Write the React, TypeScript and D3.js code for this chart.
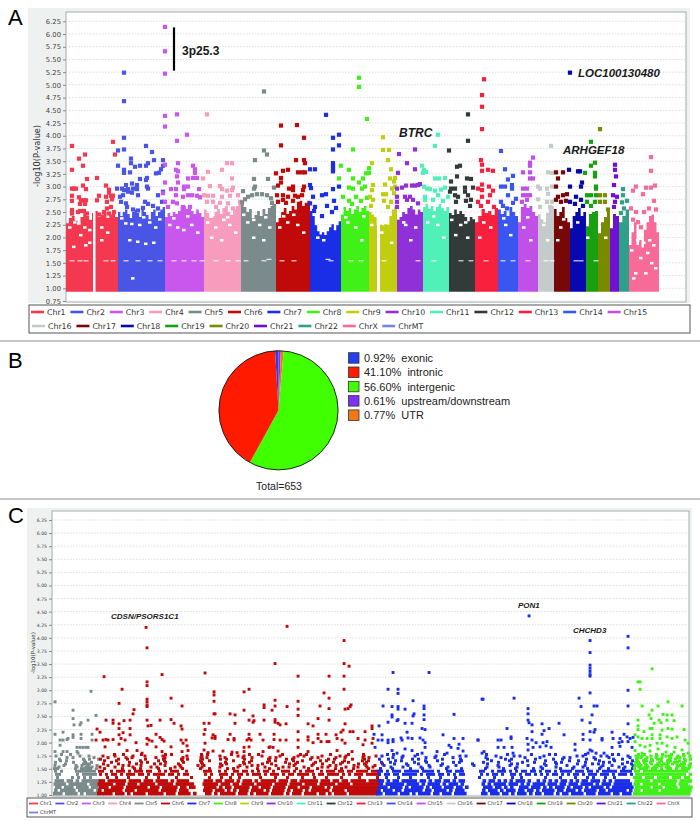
import * as d3 from 'd3';
import { useEffect, useRef } from 'react';

type Pt = [number, number];

const chrNames = ['Chr1','Chr2','Chr3','Chr4','Chr5','Chr6','Chr7','Chr8','Chr9','Chr10','Chr11','Chr12','Chr13','Chr14','Chr15','Chr16','Chr17','Chr18','Chr19','Chr20','Chr21','Chr22','ChrX','ChrMT'];
const chrColors = ['#f4384f','#4a55e6','#c957ee','#f79cbc','#7b8a8a','#c00a0a','#1a2ee8','#40f018','#bfcf10','#9030d8','#50f0b8','#333a3a','#f8203c','#3a55f0','#c050e8','#c5cbcb','#780808','#0808b0','#18a010','#7a8a00','#7010d0','#2fa088','#f86a98','#7a82e0'];

// genome position of each chromosome start, last entry closes ChrX
const chrStartsA = [0,52,99,138,175,210,244,275,303,331,357,383,409,432,452,472,488,504,520,532,544,553,563,593];

// top of the solid mass of points per chromosome, evenly across it
const massA = [
  [2.28,2.38,2.42,2.33,2.26,2.4,2.5,2.42,2.35,2.48,2.52,2.4,2.45,2.5,2.38,2.45,2.5,2.4],
  [2.5,2.42,2.5,2.55,2.46,2.38,2.5,2.55,2.48,2.4,2.55,2.5,2.44,2.36,2.5,2.55,2.42,2.5,2.55,2.6],
  [2.4,2.48,2.42,2.5,2.46,2.52,2.6,2.62,2.56,2.6,2.52,2.46,2.55,2.48,2.4],
  [2.55,2.48,2.38,2.42,2.5,2.56,2.46,2.58,2.62,2.5,2.44,2.55,2.62,2.66],
  [2.66,2.6,2.5,2.56,2.38,2.44,2.52,2.42,2.56,2.46,2.58,2.62,2.66],
  [2.3,2.38,2.5,2.58,2.46,2.52,2.62,2.55,2.7,2.72,2.62,2.68,2.72],
  [2.52,2.42,2.24,2.12,2.06,2.1,2.05,2.12,2.2,2.26,2.14,2.24,2.32],
  [2.45,2.6,2.52,2.58,2.46,2.55,2.62,2.5,2.58,2.62,2.52],
  [2.5,2.45,2.4,2.24,2.25,2.24,2.26,2.25,2.42,2.55,2.6],
  [2.35,2.4,2.5,2.46,2.58,2.62,2.55,2.45,2.55,2.5],
  [2.6,2.66,2.56,2.62,2.52,2.6,2.66,2.58,2.52,2.6],
  [2.48,2.44,2.55,2.46,2.52,2.46,2.4,2.32,2.4,2.36],
  [2.3,2.42,2.56,2.48,2.52,2.44,2.58],
  [2.55,2.46,2.52,2.42,2.6,2.5,2.42],
  [2.3,2.6,2.66,2.58,2.62,2.5,2.42],
  [2.46,2.36,2.3,2.48,2.6,2.62],
  [2.56,2.42,2.5,2.6,2.38,2.3],
  [2.18,2.42,2.5,2.58,2.42,2.5],
  [2.22,2.46,2.5,2.52],
  [2.08,2.3,2.4,2.52],
  [2.18,2.46,2.42],
  [2.3,2.42,2.55],
  [1.85,2.1,2.3,1.85,1.95,1.8,2.15,2.3,2.42,2.45,2.3,2.1],
];

const pointsA: Pt[][] = [
  [[6,3.8],[13,3.55],[19,3.63],[17,3.41],[6,3.33],[21,3.15],[31,3.17],[47,3.88],[49,3.63],[40,3.02],[6,2.96],[8,2.96],[10,2.96],[17,3.02],[20,2.95],[6,2.82],[6,2.72],[13,2.79],[15,2.73],[18,2.73],[20,2.73],[14,2.66],[19,2.66],[6,2.54],[6,2.47],[21,2.47],[33,2.82],[31,2.73],[43,2.94],[43,2.88],[40,2.8],[47,2.82],[45,2.82],[41,2.7],[46,2.75],[41,2.57],[45,2.6],[14,2.52],[12,2.5],[18,2.52],[33,2.45],[38,2.5],[43,2.47],[48,2.5]],
  [[58,5.24],[58,4.68],[58,3.96],[58,3.73],[52,3.71],[52,3.41],[58,3.33],[58,3.27],[64,3.28],[65,3.55],[65,3.46],[69,3.39],[74,3.41],[80,3.8],[86,3.68],[82,3.46],[80,3.41],[88,3.52],[97,3.52],[97,3.41],[95,3.34],[93,3.27],[90,3.26],[81,3.17],[74,3.15],[80,3.13],[71,3.03],[66,3.06],[60,3.03],[51,2.96],[56,2.96],[58,2.93],[62,2.95],[67,2.96],[71,2.95],[81,3],[82,2.96],[72,2.83],[66,2.88],[62,2.9],[57,2.83],[54,2.8],[55,2.7],[60,2.67],[92,2.83],[97,2.9],[79,2.7],[82,2.66],[87,2.62],[96,2.7],[92,2.57],[61,2.6],[67,2.55],[72,2.53],[77,2.58]],
  [[99,6.14],[99,5.66],[99,5.22],[99,4.39],[99,4.18],[111,4.42],[121,4.02],[111,3.9],[99,3.43],[112,3.46],[127,3.41],[129,3.34],[110,3.33],[112,3.3],[129,3.27],[111,3.2],[122,3.16],[127,3.17],[131,3.17],[99,3.08],[112,3.08],[105,2.95],[110,2.95],[118,3],[122,3],[118,2.95],[133,2.95],[97,2.87],[110,2.83],[117,2.8],[122,2.83],[126,2.83],[131,2.82],[134,2.79],[99,2.7],[107,2.7],[111,2.67],[117,2.6],[124,2.6],[102,2.6]],
  [[141,4.42],[161,3.46],[166,3.46],[156,3.33],[142,3.29],[137,3.16],[166,3.16],[144,3.01],[154,3.01],[167,2.98],[156,2.95],[166,2.93],[161,2.92],[138,2.83],[142,2.82],[147,2.82],[156,2.8],[164,2.82],[172,2.83],[141,2.7],[147,2.7],[154,2.68],[162,2.67],[174,2.7],[150,2.6],[167,2.57]],
  [[198,4.87],[198,3.71],[201,3.63],[189,3.52],[188,3.15],[202,3.15],[189,3],[188,2.96],[208,2.98],[177,2.91],[182,2.8],[186,2.83],[191,2.85],[196,2.85],[201,2.83],[205,2.77],[179,2.75],[176,2.69],[206,2.68],[208,2.59]],
  [[215,4.2],[231,4.21],[238,3.96],[215,3.81],[230,3.52],[238,3.52],[239,3.46],[210,3.26],[217,3.31],[222,3.33],[232,3.28],[236,3.28],[239,3.28],[215,3.17],[215,3.08],[212,3.02],[227,3],[238,3],[223,2.96],[227,2.93],[237,2.93],[211,2.83],[217,2.83],[222,2.8],[229,2.82],[236,2.83],[217,2.74],[232,2.8],[220,2.68],[227,2.72],[212,2.7]],
  [[260,4.41],[273,4.02],[267,3.96],[273,3.81],[267,3.73],[267,3.46],[267,3.4],[267,3.35],[267,3.3],[244,3.34],[249,3.34],[273,3],[244,3.03],[245,2.97],[267,2.95],[247,2.8],[256,2.83],[260,2.85],[268,2.72],[244,2.67],[249,2.6],[261,2.62],[270,2.58],[248,2.52],[266,2.5],[256,2.42]],
  [[293,5.14],[293,4.96],[301,4.33],[287,3.73],[275,3.41],[283,3.33],[273,3.16],[283,2.98],[303,3.36],[303,3.27],[300,3.26],[297,3.16],[293,3.08],[287,3.16],[287,2.96],[299,3],[296,2.96],[290,2.8],[277,2.8],[283,2.72],[295,2.72],[301,2.78],[286,2.66]],
  [[317,3.97],[317,3.72],[323,3.72],[322,3.52],[325,3.34],[329,3.17],[324,3.16],[319,3.04],[328,3.1],[326,2.96],[329,3],[317,2.85],[320,2.85],[328,2.87],[306,3.46],[306,2.93],[307,3.03],[304,2.8],[307,2.74],[318,2.72],[325,2.7],[305,2.62],[322,2.6]],
  [[349,3.73],[333,3.64],[341,3.46],[349,3.34],[332,3.27],[331,2.96],[336,2.98],[340,3.02],[346,3.02],[349,3.02],[352,3.03],[354,3.05],[331,2.8],[331,2.7],[331,2.6],[339,2.8],[344,2.8],[347,2.74],[341,2.74],[352,2.67]],
  [[372,4.02],[369,3.8],[356,3.41],[358,3.33],[360,3.29],[357,3.27],[369,3.16],[373,3.16],[379,3.17],[358,3],[361,2.96],[364,2.95],[369,2.92],[379,2.98],[375,2.94],[359,2.8],[372,2.83],[382,2.8],[359,2.74],[367,2.74],[377,2.72]],
  [[402,4.42],[402,3.9],[383,3.71],[394,3.41],[391,3.39],[391,3.2],[385,3.1],[401,3.16],[405,3.15],[385,2.96],[389,2.96],[399,2.98],[407,2.98],[399,2.9],[384,2.9],[389,2.83],[392,2.8],[402,2.83],[405,2.74],[390,2.7],[400,2.72],[404,2.62]],
  [[418,5.11],[416,4.8],[416,4.57],[416,4.13],[415,3.52],[416,3.43],[416,3.31],[422,3.33],[427,3.31],[416,3.04],[412,2.96],[416,2.93],[423,3],[427,2.92],[424,2.83],[416,2.8],[412,2.7],[422,2.7],[415,2.62],[428,2.6]],
  [[435,3.7],[439,3.34],[447,3.21],[442,3.14],[446,3.03],[435,3],[439,3],[446,2.96],[442,2.83],[450,2.76],[435,2.7],[441,2.57],[447,2.68],[437,2.62]],
  [[467,3.57],[464,3.47],[464,3.41],[457,3.28],[464,3.28],[464,3.16],[467,3.16],[457,2.96],[461,2.96],[457,2.83],[461,2.83],[464,2.83],[456,2.7],[461,2.74]],
  [[485,3.8],[482,3.28],[486,3.27],[472,3],[474,2.96],[481,2.96],[486,3],[482,2.86],[472,2.75],[481,2.7],[486,2.7],[474,2.6],[484,2.6]],
  [[490,3.28],[497,3.28],[492,3.16],[490,3],[492,2.8],[497,2.83],[501,2.85],[490,2.74],[495,2.7],[500,2.72]],
  [[504,5.24],[503,3.33],[512,3.3],[514,3.3],[504,3],[516,3.08],[515,3],[510,2.8],[515,2.74],[504,2.7],[509,2.66],[517,2.62]],
  [[525,3.88],[529,3.47],[525,3.41],[519,3.27],[529,3.27],[529,3.2],[530,3],[530,2.96],[521,2.83],[525,2.83],[530,2.83],[521,2.7],[529,2.7],[525,2.62]],
  [[534,4.13],[534,2.83],[539,2.83],[534,2.7],[539,2.7],[542,2.55]],
  [[549,3.43],[549,3.33],[550,3.2],[548,3.03],[547,2.83],[549,2.7],[551,2.8],[548,2.6]],
  [[557,2.95],[557,2.83],[556,2.69],[561,2.72],[558,2.57],[555,2.48]],
  [[585,3.58],[585,3.31],[570,3],[567,2.92],[577,2.85],[580,2.98],[585,2.98],[589,3.02],[588,2.72],[565,2.57],[570,2.5],[578,2.5],[583,2.57],[590,2.55],[567,2.35],[575,2.2],[572,2.3]],
];

// white holes seen in the upper part of the solid mass
const holesA: Pt[] = [[4,2.2],[9,2.3],[15,2.05],[20,1.85],[24,1.9],[8,1.82],[24,2.15],[36,2.2],[42,2.1],[36,1.95],[13,2.28],[19,2.2],[60,2.28],[66,2.27],[74,2.25],[84,2.3],[90,2.2],[64,1.95],[72,1.92],[80,1.88],[88,1.9],[67,1.2],[56,2.38],[78,2.4],[94,2.36],[104,2.25],[112,2.2],[118,2.15],[126,2.25],[132,2.1],[108,2.38],[122,2.42],[142,2.3],[150,2.2],[158,2.35],[164,2.25],[170,2.1],[146,2],[156,1.95],[146,2.42],[162,2.4],[182,2.3],[194,2.25],[204,2.2],[188,2],[198,1.95],[188,2.35],[200,2.4],[178,2.45],[214,2.2],[222,2.3],[232,2.25],[238,2.1],[218,2.42],[228,2.45],[252,2],[258,1.95],[282,2.3],[290,2.2],[296,1.95],[280,2.4],[298,2.42],[306,2.25],[316,2.1],[326,1.9],[340,2.25],[350,2.2],[345,1.95],[338,2.3],[362,2.3],[372,2.25],[378,2],[368,2.42],[395,2.25],[400,2.3],[390,2.05],[402,2],[386,2.35],[418,2.3],[414,2],[425,2.2],[440,2.25],[445,2.05],[438,2.38],[458,2.2],[465,1.95],[462,2.4],[478,2.25],[482,1.95],[495,2.2],[492,1.95],[498,2.36],[512,2.3],[522,2],[540,2],[575,1.6],[582,1.7],[570,1.3],[590,1.4],[578,1.9],[586,1.5],[566,1.75],[572,1.95],[580,1.3],[588,1.85],[568,1.2],[584,1.95]];

// the thin broken white line running across the mass
const lineDashesA: Pt[] = [[6,1.55],[14,1.55],[20,1.55],[40,1.55],[47,1.55],[60,1.55],[72,1.55],[84,1.55],[94,1.55],[108,1.55],[118,1.55],[128,1.55],[136,1.55],[150,1.55],[162,1.55],[172,1.55],[180,1.55],[198,1.55],[203,1.58],[216,1.55],[228,1.55],[262,1.58],[265,1.55],[285,1.55],[295,1.55],[318,1.55],[352,1.55],[368,1.55],[395,1.55],[405,1.55],[420,1.55],[437,1.55],[447,1.55],[462,1.55],[480,1.55],[486,1.55],[510,1.55],[515,1.55],[530,1.55]];

// thin columns without any marker
const gapsA: Pt[] = [[27,29.5],[311,314]];

const ticksA = [0.75,1,1.25,1.5,1.75,2,2.25,2.5,2.75,3,3.25,3.5,3.75,4,4.25,4.5,4.75,5,5.25,5.5,5.75,6,6.25];
const ticksC = ticksA.slice(1);

// pie
const pieLabels = ['exonic','intronic','intergenic','upstream/downstream','UTR'];
const pieValues = [0.92,41.1,56.6,0.61,0.77];
const pieColors = ['#2340f0','#ff1a00','#40ff00','#8030f0','#f07818'];
const pieOrder = [0,3,4,2,1];

// panel C, dense lower rows: one string per level, each char one cell along the genome
const levelsC = [1.03,1.09,1.15,1.21,1.27,1.33,1.39,1.45,1.5,1.53,1.56,1.59,1.62,1.65,1.68,1.71,1.74,1.77];
const rowShiftC = [0,1,2,0.5,1.5,0,2,1,0,1.5,0.5,2,1,0,2,0.5,1.5,1];
const grayRows = [
  '###.####.#.####','#.#####.#####.#','##.###.####.###','####.######.###','###.##.#.######','.#....#.#.#.#..',
  '##.....#.#####.','#.#....#######.','##.....#.####.#','.#.....#..###..','#..#...#.#.#..#','...#.....###...','#.....#...#.#..','..#.#.....#....','.#.......#.#..#','....#.#......#.','#.......#..#...','..#..#.........',
];
const redRows = [
  '#####.###.#.####.#####.###.####.#...##.#.#####.###.#.####.####.#.###.####.##.#.####.##########',
  '#.######.###.#######.#####.###.....###.###.#.#.###.####.#.####.#.###.#.######.####.###########',
  '###.####.#######.###.#####.##.##...####.#.##.#####.##.###.####.###.###.####.#.###############',
  '#####.###.###.#####.#####.######...#####.###.##.####.#####.####.####.####.#####.####.#########',
  '##.######.####.###.####.#.####.....###.##.###.#.###.#.#####.###.##.######.###.##.##.#####.####',
  '...#..#...#.....#...#.....#....#.....#...#..#..#......#....#...#....#...#...#....#.....#.....#',
  '#.#.##.#.###.##.#.####.##.#.##.....#.#..###.#.##.#.###.#.###.#.##.####.#.##.####.#.#.###.#####',
  '##..#.###.#.###.##..#.#.###..#.....###..#.#..##.##.#.#.##.#..###.#.#.###..#.###.##.##.####.###',
  '..#.....#...#.#.....#...#...#.....#..#.....#.#.......#...#..#.....#...#..#.....#.#...#....#...#',
  '#....#.....#.....#.#.....#.#......#.....#.....#..#.....#.....#.#....#.....#.#.....#...#..#.#...',
  '...#....#.#...#.......#....#.....#.#.....#.....#...#.#.....#.....#.....#.....#.#.....#...#..#.',
  '.#....#.....#.....#.#.....#.......#.....#.#.....#.....#..#.....#.#.....#..#.....#.....#.#.....#',
  '....#.....#...#.#.....#.....#.....#.......#.....#.#.....#.....#...#.....#.....#..#.#.....#...',
  '..#...#.......#.....#.#.....#.....#..#.......#.....#.....#.#.....#..#.....#.#.....#.....#.#..',
  '#.....#..#.....#.....#.....#.#....#.....#.#.....#.......#.....#.#.....#.....#.#.....#...#....',
  '...#.....#.#.......#..#.....#.....#.#.....#.....#..#.....#.#.....#.....#.#.....#..#.....#.#..',
  '.#...#.....#...#.....#.......#....#.....#.....#.#.....#.....#.....#.#.....#.....#.#.....#...#',
  '.....#..#.....#.......#.#.........#.#.......#.....#..#.......#.....#.#.......#.....#....#.',
];
const blueRows = [
  '##.####.###.#.####.##.###.####.....##.###.##.#.###.#.##.###.#.##.####.###.####.##.###.',
  '#.###.##.######.##.####.#.###......#.###.#.###.##.##.#.####.##.###.#.####.##.######.#.',
  '###.####.#.####.#.###.###.##.#.....###.##.#.#..###.###.#.#.###.#.###.#.####.#.#######.',
  '.#.######.####.#.####.#.###.#......#.#.####.###.#.#.####.###.##.###.####.#.###.######.',
  '##.#.##.#####.##.#.##.##.#.##......#.##.#.#.#.###.#..#.#.#.#.##.#.#.##.###.#.#.#####.',
  '...#...#...#.....#...#....#.......#....#.....#..#.......#....#....#...#.#...#..#......',
  '#.##.##.#####.#.###.##.#.#.##.....#.#.##.#..##.#.##.#.#.#.##.#.#.##.#.###.###.#.###.#.',
  '##.#.###.#####.####.#..##.###.....##..#.###.#.#.##.##.#.##.#.####.###.##.#.#####.####.',
  '.#...#.....#...#.......#....#.......#.....#...#.....#..#.....#...#....#...#..#....#..#',
  '....#...#.....#..#.....#............#...#.....#.......#....#.....#..#.....#.....#.#...',
  '..#.......#......#...#....#.....#.......#...#.....#.....#......#.....#.....#..#......#',
  '.....#...#...#.......#.........#....#.......#.#........#...#......#....#.#.......#..#.',
  '.#..#.......#...#........#.#.......#....#.......#...#......#.#.......#.....#.#.....#..',
  '......#.#.......#...#.......#.........#.....#.....#.....#.......#..#......#....#.....#',
  '#..#.......#.#.......#.....#........#.....#.#.......#.....#..#.......#..#.....#..#....',
  '.....#..#.......#..#.....#..........#....#.......#....#.......#.#.......#....#......#.',
  '.#......#...#......#.......#.#.........#.....#.#.......#..........#.#.....#.#......#..',
  '...#.#.......#........#.............#......#.......#.....#.#.........#........#.#.....',
];
const greenRows = [
  '###################','##.#####.##########','#####.###.####.####','##.#####.#####.###.','#####.########.####','###.###.####.###.##',
  '#################.#','##.###############.','#.###.##.#.##.#.###','.#.##.##..##..#.#.#','###.#..###.#..###.#','.#.#.#.#.##.#..##.#','##.#.#..#..#.##.#..','.#.##.#..#.##..#.#.','#..#.#.##..#.#..#.#','.##.#..#.#..#.##...','#.#..#.#..##..#.#.#','.#.#...#.#..#...#..',
];

const grayC: Pt[] = [[3,2.78],[39,2.98],[21,2.62],[21,2.46],[29,2.38],[28,2.34],[22,2.34],[36,2.43],[44,2.52],[11,2.2],[3,2.16],[21,2.15],[21,2.1],[29,2.16],[29,2.08],[40,2.16],[40,2.05],[8,2.05],[11,2.05],[15,2.06],[16,2.08],[8,1.95],[25,1.91],[28,1.91],[31,1.91],[34,1.91],[36,1.91],[3,1.83],[11,1.83],[15,1.83],[25,1.83],[26,1.8]];
const redC: Pt[] = [[94,4.2],[235,4.22],[95,3.81],[52,3.26],[110,3.3],[95,3.16],[95,3.09],[70,3.02],[95,2.83],[95,2.78],[95,2.72],[95,2.69],[67,2.75],[119,2.85],[130,2.7],[82,2.63],[81,2.55],[54,2.43],[61,2.43],[61,2.37],[67,2.36],[72,2.42],[78,2.43],[95,2.43],[96,2.32],[99,2.33],[108,2.43],[119,2.44],[122,2.37],[129,2.32],[130,2.26],[45,2.26],[48,2.2],[67,2.27],[78,2.27],[71,2.19],[67,2.15],[104,2.16],[108,2.1],[110,2.06],[78,2.15],[73,2.05],[69,2.08],[44,2.05],[54,2.06],[51,2.05],[56,2.05],[61,2.06],[95,2.08],[97,2.05],[100,2.03],[112,2.03],[84,2],[129,2.05],[134,2.05],[67,1.97],[53,1.92],[95,1.97],[104,1.92],[119,1.92],[135,1.94],[131,1.99],[130,1.83],[136,1.85],[85,1.85],[75,1.85],[90,1.8],[110,1.83],
  [153,3.33],[162,2.97],[162,2.91],[162,2.79],[192,2.97],[197,3.02],[192,2.62],[212,2.72],[212,2.67],[162,2.55],[163,2.55],[178,2.55],[183,2.53],[152,2.37],[157,2.37],[183,2.37],[153,2.25],[152,2.16],[197,2.43],[201,2.51],[202,2.42],[201,2.39],[212,2.43],[197,2.16],[197,2.08],[199,2.05],[195,2.05],[208,2.16],[211,2.05],[178,2.16],[176,2.06],[182,2.08],[182,2.05],[161,2.15],[163,2.12],[160,2.09],[163,2.08],[153,1.99],[192,1.91],[192,1.83],[197,1.92],[171,1.84],[152,1.86],[156,1.81],[161,1.84],[180,1.82],[185,1.81],[211,1.83],[217,1.91],
  [292,3.95],[223,3.51],[292,3.51],[297,3.46],[246,3.27],[277,3.27],[292,3.27],[292,3.02],[272,2.95],[277,2.85],[223,2.81],[246,2.79],[223,2.7],[220,2.62],[235,2.69],[246,2.64],[246,2.52],[268,2.7],[277,2.65],[293,2.64],[296,2.65],[298,2.69],[299,2.72],[223,2.44],[223,2.39],[226,2.37],[228,2.34],[234,2.36],[266,2.46],[277,2.43],[256,2.36],[261,2.32],[293,2.36],[320,2.32],[320,2.27],[246,2.21],[256,2.11],[256,2.05],[266,2.16],[266,2.08],[274,2.16],[277,2.02],[284,2.15],[285,2.08],[291,2.24],[289,2.2],[298,2.21],[301,2.21],[313,2.21],[222,2.16],[222,2.06],[228,2.05],[234,2.05],[246,2.05],[261,2],[269,2.02],[275,2.02],[290,2.05],[293,1.99],[306,2.08],[313,2.05],[321,2.08],[320,1.99],[311,1.96],[218,1.92],[221,1.91],[226,1.84],[246,1.91],[256,1.83],[285,1.85],[300,1.83]];
const blueC: Pt[] = [[477,4.42],[576,4.03],[341,3.34],[377,3.34],[431,2.83],[336,3.02],[346,3.02],[346,2.94],[361,2.8],[331,2.7],[340,2.69],[346,2.69],[346,2.64],[353,2.64],[372,2.7],[372,2.65],[340,2.53],[340,2.49],[362,2.55],[361,2.51],[372,2.53],[372,2.44],[402,2.54],[346,2.44],[345,2.42],[336,2.39],[327,2.32],[353,2.37],[360,2.37],[370,2.27],[373,2.25],[355,2.2],[322,2.16],[330,2.15],[391,2.15],[326,2.05],[330,2.05],[336,2.05],[341,2.06],[349,2.09],[356,2.09],[360,2.08],[368,2.09],[336,2],[341,2.02],[371,2.05],[373,2],[350,2.05],[402,2.08],[411,2.08],[426,2.05],[397,1.95],[399,1.91],[407,1.97],[406,1.89],[411,1.84],[373,1.91],[323,1.91],[340,1.85],[353,1.88],[360,1.85],[345,1.8],[370,1.8],[385,1.83],[395,1.8],
  [538,3.95],[576,3.81],[538,3.72],[538,3.48],[538,3.42],[538,3.36],[538,3.3],[538,3.27],[538,2.95],[576,3],[430,2.83],[462,2.85],[527,2.85],[529,2.69],[542,2.7],[545,2.7],[576,2.7],[476,2.65],[476,2.55],[476,2.43],[477,2.38],[480,2.34],[480,2.21],[540,2.53],[530,2.43],[538,2.38],[576,2.36],[490,2.36],[507,2.37],[497,2.27],[455,2.27],[492,2.23],[490,2.16],[512,2.15],[543,2.25],[542,2.2],[538,2.21],[560,2.2],[459,2.11],[459,2.08],[531,2.16],[531,2.06],[538,2.05],[550,2.08],[550,2.05],[561,2.08],[475,2.08],[480,2.05],[426,2.05],[446,2.05],[449,2.05],[484,2],[491,2],[495,2.02],[476,1.97],[523,1.97],[568,2.08],[572,2.16],[575,2.11],[578,2.08],[581,2.1],[567,2],[570,2.02],[576,2.02],[568,1.93],[580,1.91],[446,1.91],[452,1.91],[460,1.91],[481,1.91],[488,1.92],[494,1.94],[499,1.91],[476,1.86],[523,1.86],[538,1.86],[540,1.84],[544,1.8],[552,1.8],[560,1.91],[432,1.83],[430,1.8],[461,1.8],[536,1.8]];
const greenC: Pt[] = [[600,3.41],[586,3.16],[588,3.16],[588,3.02],[616,2.78],[590,2.7],[600,2.62],[606,2.7],[630,2.7],[586,2.43],[597,2.53],[599,2.46],[611,2.54],[615,2.53],[620,2.53],[607,2.43],[615,2.43],[622,2.42],[609,2.38],[602,2.37],[586,2.32],[586,2.25],[598,2.27],[600,2.27],[592,2.21],[616,2.27],[620,2.26],[632,2.25],[610,2.24],[583,2.15],[586,2.11],[590,2.08],[595,2.08],[600,2.15],[600,2.08],[608,2.15],[608,2.08],[615,2.11],[620,2.08],[625,2.11],[633,2.05],[636,1.99],[583,2.02],[588,1.95],[593,1.92],[598,1.95],[605,1.99],[610,1.99],[615,1.94],[623,1.91],[630,1.86],[636,1.8],[583,1.85],[590,1.8],[598,1.84],[606,1.88],[614,1.82],[622,1.82]];

const panelA = { bg: [28, 8, 662, 295], frame: [66, 12, 686, 302] };
const panelC = { bg: [27, 508, 665, 289], frame: [52, 511, 689, 796] };

export default function App() {
  const svgRef = useRef<SVGSVGElement | null>(null);

  useEffect(() => {
    if (!svgRef.current) return;
    const svg = d3.select(svgRef.current);
    svg.selectAll('*').remove();

    const sans = 'Liberation Sans, Arial, sans-serif';
    const java = 'DejaVu Sans, sans-serif';

    svg.append('rect').attr('width', 700).attr('height', 825).attr('fill', '#fff');

    // section rules
    [341, 499].forEach((y) => {
      svg.append('line').attr('x1', 0).attr('x2', 700).attr('y1', y).attr('y2', y).attr('stroke', '#b5b5b5').attr('stroke-width', 1.5);
    });

    // panel letters
    [['A', 8, 25], ['B', 8, 368], ['C', 8, 523]].forEach(([t, x, y]) => {
      svg.append('text').attr('x', x as number).attr('y', y as number).attr('font-family', sans).attr('font-size', 22).text(t as string);
    });

    const drawFrame = (p: typeof panelA, ticks: number[], y: d3.ScaleLinear<number, number>, fontSize: number, labelX: number, labelY: number, labelSize: number) => {
      svg.append('rect').attr('x', p.bg[0]).attr('y', p.bg[1]).attr('width', p.bg[2]).attr('height', p.bg[3]).attr('fill', '#eef1f0');
      svg.append('rect').attr('x', p.frame[0]).attr('y', p.frame[1]).attr('width', p.frame[2] - p.frame[0]).attr('height', p.frame[3] - p.frame[1]).attr('fill', '#fff').attr('stroke', '#a3abab');
      const axis = d3.axisLeft(y).tickValues(ticks).tickFormat(d3.format('.2f') as any).tickSize(3).tickPadding(2);
      const g = svg.append('g').attr('transform', `translate(${p.frame[0]},0)`).call(axis as any);
      g.select('.domain').remove();
      g.selectAll('text').attr('font-size', fontSize).attr('font-family', java).attr('fill', '#444');
      g.selectAll('line').attr('stroke', '#888');
      svg.append('g').selectAll('line').data(ticks).enter().append('line')
        .attr('x1', p.frame[0]).attr('x2', p.frame[2])
        .attr('y1', (d) => y(d)).attr('y2', (d) => y(d))
        .attr('stroke', '#d6d6d6').attr('stroke-width', 0.8).attr('stroke-dasharray', '1.5 1.5');
      svg.append('text').attr('transform', `translate(${labelX},${labelY}) rotate(-90)`)
        .attr('text-anchor', 'middle').attr('font-family', java).attr('font-size', labelSize).attr('fill', '#333').text('-log10(P-value)');
    };

    const drawLegend = (box: number[], rows: number[][], swatch: number, textGap: number, stepBase: number, stepExtra: number, fontSize: number, lw: number) => {
      svg.append('rect').attr('x', box[0]).attr('y', box[1]).attr('width', box[2]).attr('height', box[3]).attr('fill', '#fff').attr('stroke', '#555');
      let idx = 0;
      rows.forEach(([count, startX, rowY]) => {
        let x = startX;
        for (let k = 0; k < count; k++, idx++) {
          const name = chrNames[idx];
          svg.append('line').attr('x1', x).attr('x2', x + swatch).attr('y1', rowY).attr('y2', rowY).attr('stroke', chrColors[idx]).attr('stroke-width', lw);
          svg.append('text').attr('x', x + swatch + textGap).attr('y', rowY + fontSize * 0.36).attr('font-family', java).attr('font-size', fontSize).attr('fill', '#333').text(name);
          x += stepBase + (name.length - 4) * stepExtra;
        }
      });
    };

    // ---------- panel A
    const yA = d3.scaleLinear().domain([1, 6.25]).range([288.3, 21.3]);
    const xA = d3.scaleLinear().domain([0, 620]).range([66, 686]);
    drawFrame(panelA, ticksA, yA, 6.8, 40, 156, 8.2);

    chrStartsA.slice(0, -1).forEach((start, c) => {
      const tops = massA[c];
      const end = chrStartsA[c + 1];
      const bin = d3.scaleLinear().domain([0, tops.length]).range([start, end]);
      const area = d3.area<number>()
        .x((_, i) => xA(bin(i)))
        .y0(yA(0.93))
        .y1((d) => yA(d))
        .curve(d3.curveStepAfter);
      svg.append('path').attr('d', area([...tops, tops[tops.length - 1]]) as string).attr('fill', chrColors[c]);
    });

    gapsA.forEach(([a, b]) => {
      svg.append('rect').attr('x', xA(a)).attr('width', xA(b) - xA(a)).attr('y', yA(2.6)).attr('height', yA(0.93) - yA(2.6)).attr('fill', '#fff');
    });

    svg.append('g').selectAll('rect').data(holesA).enter().append('rect')
      .attr('x', (d) => xA(d[0]) - 2).attr('y', (d) => yA(d[1]) - 1).attr('width', 3.5).attr('height', 2.5).attr('fill', '#fff');
    svg.append('g').selectAll('rect').data(lineDashesA).enter().append('rect')
      .attr('x', (d) => xA(d[0]) - 2.5).attr('y', (d) => yA(d[1])).attr('width', 5).attr('height', 1).attr('fill', '#fff');

    pointsA.forEach((pts, c) => {
      svg.append('g').selectAll('rect').data(pts).enter().append('rect')
        .attr('x', (d) => xA(d[0]) - 2.1).attr('y', (d) => yA(d[1]) - 2.1)
        .attr('width', 4.2).attr('height', 4.2).attr('fill', chrColors[c]);
    });

    // 3p25.3 bar
    svg.append('line').attr('x1', xA(108)).attr('x2', xA(108)).attr('y1', yA(6.13)).attr('y2', yA(5.28)).attr('stroke', '#000').attr('stroke-width', 2.2);

    const note = (t: string, x: number, y: number, size: number, italic: boolean) => {
      svg.append('text').attr('x', x).attr('y', y).attr('font-family', sans).attr('font-size', size)
        .attr('font-weight', 'bold').attr('font-style', italic ? 'italic' : 'normal').attr('fill', '#1a1a1a').text(t);
    };
    note('3p25.3', 182, 55, 12, false);
    note('LOC100130480', 578, 77, 11.5, true);
    note('BTRC', 399, 137, 12, true);
    note('ARHGEF18', 563, 154, 11.5, true);

    drawLegend([29, 305, 661, 28], [[15, 31, 312], [9, 32, 326]], 13, 3, 39.4, 5, 7.8, 2.6);

    // ---------- panel B
    const pie = d3.pie<number>().sort(null).value((i) => pieValues[i])
      .startAngle((-3.3 * Math.PI) / 180).endAngle(((360 - 3.3) * Math.PI) / 180);
    const arc = d3.arc<d3.PieArcDatum<number>>().innerRadius(0).outerRadius(59.6);
    const pieG = svg.append('g').attr('transform', 'translate(278.5,410.3)');
    pieG.selectAll('path').data(pie(pieOrder)).enter().append('path')
      .attr('d', (d) => arc(d) as string).attr('fill', (d) => pieColors[d.data]);
    pieG.append('circle').attr('r', 59.6).attr('fill', 'none').attr('stroke', '#111').attr('stroke-width', 0.9);

    pieLabels.forEach((label, i) => {
      const rowY = 358 + i * 14.3;
      svg.append('rect').attr('x', 348.5).attr('y', rowY - 5.3).attr('width', 10.5).attr('height', 10.5).attr('fill', pieColors[i]).attr('stroke', '#333').attr('stroke-width', 0.8);
      svg.append('text').attr('x', 364).attr('y', rowY + 4).attr('font-family', sans).attr('font-size', 11).attr('fill', '#222')
        .style('white-space', 'pre').text(`${pieValues[i].toFixed(2)}%  ${label}`);
    });
    svg.append('text').attr('x', 279).attr('y', 490).attr('text-anchor', 'middle').attr('font-family', sans).attr('font-size', 10.5).attr('fill', '#222').text('Total=653');

    // ---------- panel C
    const yC = d3.scaleLinear().domain([1, 6.25]).range([795, 520]);
    const xC = d3.scaleLinear().domain([0, 637]).range([52, 689]);
    drawFrame(panelC, ticksC, yC, 4.6, 35, 653, 5.5);

    const rowBlocks: [string[], number, string][] = [
      [grayRows, 1, chrColors[4]],
      [redRows, 45, chrColors[5]],
      [blueRows, 324, chrColors[6]],
      [greenRows, 581, chrColors[7]],
    ];
    rowBlocks.forEach(([rows, start, color]) => {
      const cells: Pt[] = [];
      rows.forEach((row, r) => {
        row.split('').forEach((ch, i) => {
          if (ch === '#') cells.push([start + i * 3 + rowShiftC[r], levelsC[r]]);
        });
      });
      svg.append('g').selectAll('rect').data(cells).enter().append('rect')
        .attr('x', (d) => xC(d[0])).attr('y', (d) => yC(d[1]) - 1.7)
        .attr('width', (d) => (d[1] < 1.3 ? 3.6 : 3)).attr('height', (d) => (d[1] < 1.3 ? 3.6 : 3)).attr('fill', color);
    });

    const upperC: [Pt[], string][] = [[grayC, chrColors[4]], [redC, chrColors[5]], [blueC, chrColors[6]], [greenC, chrColors[7]]];
    upperC.forEach(([pts, color]) => {
      svg.append('g').selectAll('rect').data(pts).enter().append('rect')
        .attr('x', (d) => xC(d[0]) - 1.4).attr('y', (d) => yC(d[1]) - 1.4)
        .attr('width', 2.9).attr('height', 2.9).attr('fill', color);
    });

    note('CDSN/PSORS1C1', 111, 619, 8, true);
    note('PON1', 518, 608, 8, true);
    note('CHCHD3', 573, 633, 8, true);

    drawLegend([27, 798, 665, 19], [[23, 29, 803.5], [1, 29, 812.5]], 9, 2, 26.4, 3.6, 5, 1.8);
  }, []);

  return <svg ref={svgRef} width={700} height={825} style={{ position: 'absolute', left: 0, top: 0 }}></svg>;
}
